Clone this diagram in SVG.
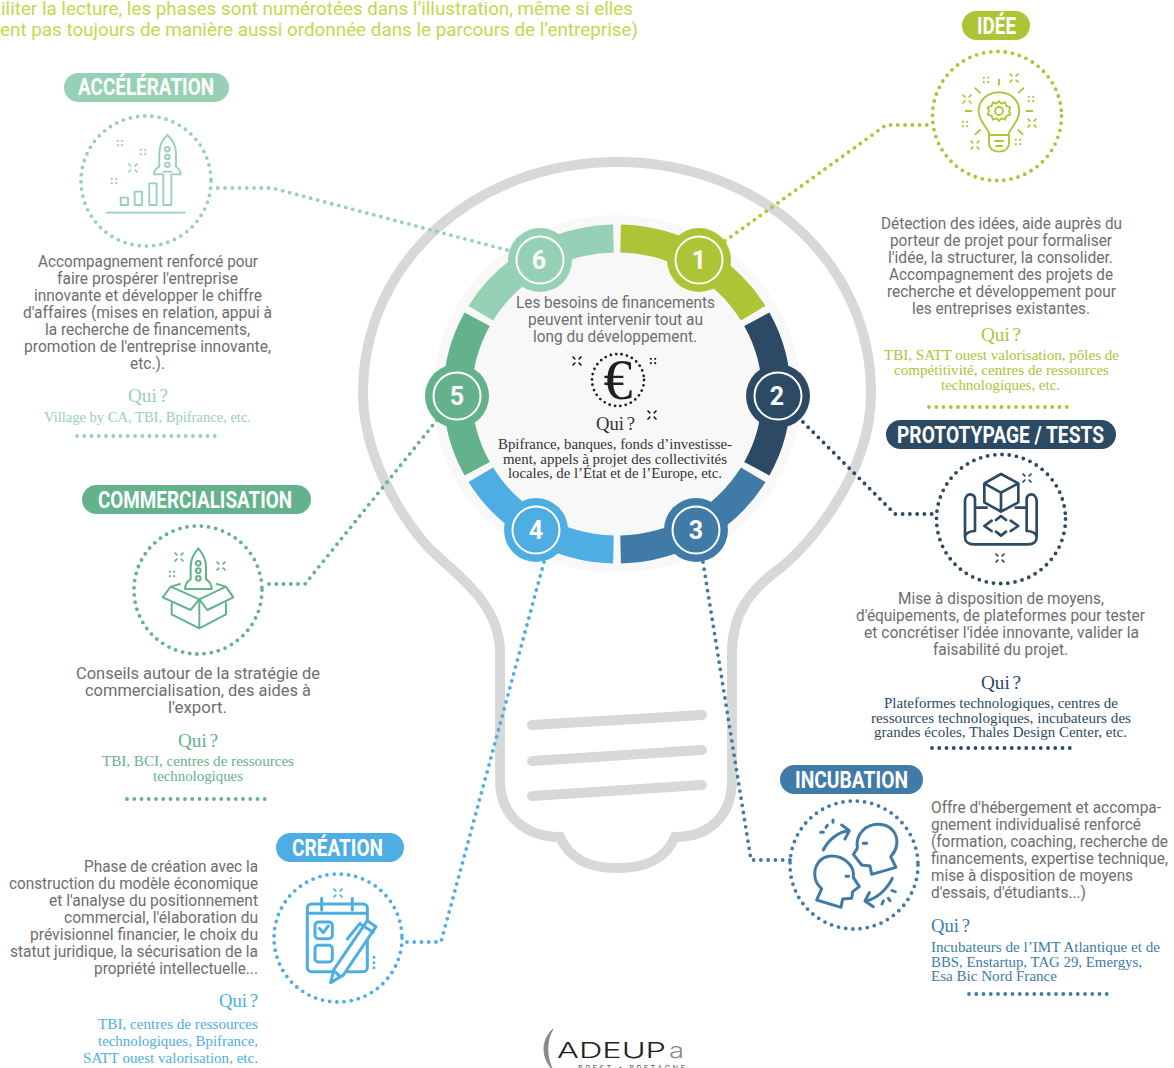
<svg xmlns="http://www.w3.org/2000/svg" width="1174" height="1068" viewBox="0 0 1174 1068">
<style>
text{font-family:"Roboto","Liberation Sans",sans-serif}
.b{font-size:17px;fill:#6d6e70;font-weight:400}
.s{font-family:"Liberation Serif","Times New Roman",serif;font-size:14.5px}
.q{font-family:"Liberation Serif","Times New Roman",serif;font-size:18.5px;word-spacing:-2px}
.p{font-size:24px;font-weight:700;fill:#fff}
.n{font-size:25px;font-weight:700;fill:#fff;text-anchor:middle}
.d{fill:none;stroke-width:3.8;stroke-linecap:round;stroke-dasharray:0 7.25}
.i{fill:none;stroke-linecap:round;stroke-linejoin:round;stroke-width:5}
.seg{fill:none;stroke-width:28}
.g1{color:#adc437}.g2{color:#2c4a63}.g3{color:#407ba8}.g4{color:#4eade3}.g5{color:#64b28b}.g6{color:#97d1b5}
.g1 .d,.g1 .i,.g2 .d,.g2 .i,.g3 .d,.g3 .i,.g4 .d,.g4 .i,.g5 .d,.g5 .i,.g6 .d,.g6 .i{stroke:currentColor}
.g1 .f,.g2 .f,.g3 .f,.g4 .f,.g5 .f,.g6 .f{fill:currentColor}
</style>
<defs>
<g id="sx" fill="none" stroke="currentColor" stroke-width="1.7" stroke-linecap="round"><path d="M-4-4L-2.2-2.2M4-4L2.2-2.2M-4 4L-2.2 2.2M4 4L2.2 2.2"/></g>
<g id="sq" fill="currentColor"><circle cx="-2.2" cy="-2.2" r="1.1"/><circle cx="2.2" cy="-2.2" r="1.1"/><circle cx="-2.2" cy="2.2" r="1.1"/><circle cx="2.2" cy="2.2" r="1.1"/></g>
</defs>

<g id="bulb" fill="none" stroke="#d7d9d8" stroke-width="10" stroke-linecap="round">
<path d="M617 162C475 162 363 262 363 393C363 450 395 510 428 547C450 570 500 600 500 653L500 780C500 815 525 837 560 837C570 860 590 868 617 868C645 868 665 860 675 837C710 837 732 815 732 780L732 653C732 612 752 590 775 572C800 555 871 480 871 393C871 262 760 162 617 162Z"/>
<path d="M532 725L702 715M532 761L702 750M532 796L702 785"/>
</g>

<ellipse id="disk" cx="617" cy="394" rx="184" ry="179" fill="#f8f8f8"/>

<g id="connectors">
<path class="d" stroke="#adc437" d="M725 241L886 125L933 125"/>
<path class="d" stroke="#2c4a63" d="M803 422L895 514L937 514"/>
<path class="d" stroke="#407ba8" d="M703 562L751 860L790 860"/>
<path class="d" stroke="#4eade3" d="M544 562L441 942L406 942"/>
<path class="d" stroke="#64b28b" d="M437 420L305 584L264 584"/>
<path class="d" stroke="#97d1b5" d="M507 250L272 188L212 188"/>
</g>

<g id="ring" transform="translate(617 394) scale(1.025 1) translate(-617 -394)">
<path class="seg" stroke="#adc437" d="M620.5 238.5A155.5 155.5 0 0 1 749.9 313.2"/>
<path class="seg" stroke="#2c4a63" d="M753.4 319.3A155.5 155.5 0 0 1 753.4 468.7"/>
<path class="seg" stroke="#407ba8" d="M749.9 474.8A155.5 155.5 0 0 1 620.5 549.5"/>
<path class="seg" stroke="#4eade3" d="M613.5 549.5A155.5 155.5 0 0 1 484.1 474.8"/>
<path class="seg" stroke="#64b28b" d="M480.6 468.7A155.5 155.5 0 0 1 480.6 319.3"/>
<path class="seg" stroke="#97d1b5" d="M484.1 313.2A155.5 155.5 0 0 1 613.5 238.5"/>
</g>

<g id="node-1"><circle cx="699" cy="260" r="32" fill="#adc437"/><circle cx="699" cy="260" r="23.5" fill="none" stroke="#fff" stroke-width="2"/><text class="n" x="699" y="269">1</text></g>
<g id="node-2"><circle cx="778" cy="396" r="32" fill="#2c4a63"/><circle cx="778" cy="396" r="23.5" fill="none" stroke="#fff" stroke-width="2"/><text class="n" x="777" y="405">2</text></g>
<g id="node-3"><circle cx="696" cy="530" r="32" fill="#407ba8"/><circle cx="696" cy="530" r="23.5" fill="none" stroke="#fff" stroke-width="2"/><text class="n" x="696" y="539">3</text></g>
<g id="node-4"><circle cx="536" cy="530" r="32" fill="#4eade3"/><circle cx="536" cy="530" r="23.5" fill="none" stroke="#fff" stroke-width="2"/><text class="n" x="536" y="539">4</text></g>
<g id="node-5"><circle cx="457" cy="396" r="32" fill="#64b28b"/><circle cx="457" cy="396" r="23.5" fill="none" stroke="#fff" stroke-width="2"/><text class="n" x="457" y="405">5</text></g>
<g id="node-6"><circle cx="540" cy="260" r="32" fill="#97d1b5"/><circle cx="540" cy="260" r="23.5" fill="none" stroke="#fff" stroke-width="2"/><text class="n" x="539" y="269">6</text></g>

<g id="center" style="color:#231f20">
<text class="b" x="516" y="308" textLength="199" lengthAdjust="spacingAndGlyphs">Les besoins de financements</text>
<text class="b" x="528" y="325" textLength="175" lengthAdjust="spacingAndGlyphs">peuvent intervenir tout au</text>
<text class="b" x="533" y="342" textLength="164" lengthAdjust="spacingAndGlyphs">long du développement.</text>
<circle cx="618" cy="380" r="26" fill="none" stroke="#231f20" stroke-width="2.8" stroke-linecap="round" stroke-dasharray="0 5.45"/>
<text x="618" y="399" text-anchor="middle" font-size="58" fill="#231f20" style="font-family:'Liberation Serif',serif">€</text>
<use href="#sx" x="577" y="361"/><use href="#sq" x="653" y="361"/><use href="#sx" x="652" y="415"/>
<text class="q" x="596" y="430" fill="#333" textLength="39" lengthAdjust="spacingAndGlyphs">Qui ?</text>
<text class="s" x="498" y="449" fill="#333" textLength="234" lengthAdjust="spacingAndGlyphs">Bpifrance, banques, fonds d’investisse-</text>
<text class="s" x="503" y="464" fill="#333" textLength="224" lengthAdjust="spacingAndGlyphs">ment, appels à projet des collectivités</text>
<text class="s" x="508" y="478" fill="#333" textLength="214" lengthAdjust="spacingAndGlyphs">locales, de l’État et de l’Europe, etc.</text>
</g>

<g id="intro" fill="#c2d94f" font-size="19">
<text x="1" y="15" textLength="632" lengthAdjust="spacingAndGlyphs">iliter la lecture, les phases sont numérotées dans l’illustration, même si elles</text>
<text x="0" y="36" textLength="638" lengthAdjust="spacingAndGlyphs">ent pas toujours de manière aussi ordonnée dans le parcours de l’entreprise)</text>
</g>

<g id="phase-idee" class="g1">
<rect class="f" x="962" y="11" width="68" height="29" rx="14.5"/>
<text class="p" x="977" y="34" textLength="39" lengthAdjust="spacingAndGlyphs">IDÉE</text>
<circle class="d" cx="997" cy="116" r="64.5"/>
<g transform="translate(900 0) scale(.3333)"><g class="i" style="stroke-width:5.5">
<path d="M267 398C255 375 236 360 236 333C236 300 263 277 297 277C331 277 358 300 358 333C358 360 339 375 327 398L327 430C327 445 315 455 297 455C279 455 267 445 267 430Z"/>
<path d="M267 405L327 405M285 423L309 423M288 438L306 438M297 238L297 254M226 265L240 278M370 265L356 278M197 333L214 333M380 333L397 333M226 403L240 390M355 390L368 403"/>
<path d="M297 303L304 311L315 307L319 318L331 322L327 333L331 344L319 348L315 359L304 355L297 363L290 355L279 359L275 348L263 344L267 333L263 322L275 318L279 307L290 311Z"/>
<circle cx="297" cy="333" r="12"/></g></g>
<use href="#sq" x="986" y="80"/><use href="#sx" x="1014" y="78"/><use href="#sx" x="967" y="99"/><use href="#sq" x="1031" y="99"/><use href="#sq" x="965" y="124"/><use href="#sx" x="1032" y="123"/><use href="#sx" x="975" y="145"/><use href="#sq" x="1018" y="142"/>
<g class="b">
<text x="881" y="229" textLength="241" lengthAdjust="spacingAndGlyphs">Détection des idées, aide auprès du</text>
<text x="890" y="246" textLength="222" lengthAdjust="spacingAndGlyphs">porteur de projet pour formaliser</text>
<text x="888" y="263" textLength="225" lengthAdjust="spacingAndGlyphs">l'idée, la structurer, la consolider.</text>
<text x="889" y="280" textLength="224" lengthAdjust="spacingAndGlyphs">Accompagnement des projets de</text>
<text x="887" y="297" textLength="229" lengthAdjust="spacingAndGlyphs">recherche et développement pour</text>
<text x="912" y="314" textLength="178" lengthAdjust="spacingAndGlyphs">les entreprises existantes.</text>
</g>
<text class="q" x="981" y="341" fill="#adc437" textLength="40" lengthAdjust="spacingAndGlyphs">Qui ?</text>
<text class="s" x="884" y="360" fill="#adc437" textLength="235" lengthAdjust="spacingAndGlyphs">TBI, SATT ouest valorisation, pôles de</text>
<text class="s" x="894" y="375" fill="#adc437" textLength="215" lengthAdjust="spacingAndGlyphs">compétitivité, centres de ressources</text>
<text class="s" x="941" y="390" fill="#adc437" textLength="119" lengthAdjust="spacingAndGlyphs">technologiques, etc.</text>
<path class="d" d="M929 407L1073 407"/>
</g>

<g id="phase-prototypage" class="g2">
<rect class="f" x="886" y="420" width="230" height="29" rx="14.5"/>
<text class="p" x="897" y="443" textLength="207" lengthAdjust="spacingAndGlyphs">PROTOTYPAGE / TESTS</text>
<circle class="d" cx="1001" cy="519" r="64.5"/>
<g transform="translate(920 450) scale(.3333)"><g class="i" style="stroke-width:8">
<path d="M243 72L295 100L295 157L243 185L193 157L193 100ZM193 100L243 128L295 100M243 128L243 185"/>
<path d="M165 243L165 148C165 138 158 133 150 133C142 133 135 142 135 152L135 262C135 275 146 283 160 283L325 283C340 283 350 275 350 262L350 152C350 142 342 133 335 133C327 133 320 138 320 148L320 243M165 243C150 243 135 250 135 262M320 243C335 243 350 250 350 262"/>
<path d="M170 173L200 173M287 173L320 173M215 212L193 228L215 243M272 212L295 228L272 243M228 210L243 198L258 210M228 245L243 257L258 245"/>
</g></g>
<use href="#sx" x="1027" y="478"/><use href="#sx" x="1000" y="558"/>
<g class="b">
<text x="898" y="604" textLength="206" lengthAdjust="spacingAndGlyphs">Mise à disposition de moyens,</text>
<text x="856" y="621" textLength="289" lengthAdjust="spacingAndGlyphs">d'équipements, de plateformes pour tester</text>
<text x="864" y="638" textLength="275" lengthAdjust="spacingAndGlyphs">et concrétiser l'idée innovante, valider la</text>
<text x="933" y="655" textLength="135" lengthAdjust="spacingAndGlyphs">faisabilité du projet.</text>
</g>
<text class="q" x="981" y="689" fill="#2c4a63" textLength="40" lengthAdjust="spacingAndGlyphs">Qui ?</text>
<text class="s" x="884" y="708" fill="#2c4a63" textLength="234" lengthAdjust="spacingAndGlyphs">Plateformes technologiques, centres de</text>
<text class="s" x="871" y="723" fill="#2c4a63" textLength="260" lengthAdjust="spacingAndGlyphs">ressources technologiques, incubateurs des</text>
<text class="s" x="874" y="737" fill="#2c4a63" textLength="253" lengthAdjust="spacingAndGlyphs">grandes écoles, Thales Design Center, etc.</text>
<path class="d" d="M932 748L1076 748"/>
</g>

<g id="phase-incubation" class="g3">
<rect class="f" x="780" y="765" width="143" height="29" rx="14.5"/>
<text class="p" x="795" y="788" textLength="113" lengthAdjust="spacingAndGlyphs">INCUBATION</text>
<circle class="d" cx="854" cy="865" r="64"/>
<g transform="translate(770 790) scale(.3333)"><g class="i" style="stroke-width:9">
<path d="M275 225L250 193L262 175C255 130 290 103 325 103C365 103 385 135 380 165C378 185 365 195 362 200L378 232L305 253L300 228Z"/>
<path d="M245 325L248 305L268 290L250 262C255 225 220 198 185 198C150 198 130 230 135 262C137 280 150 290 155 297L140 330L213 352L218 327Z"/>
<path d="M160 180C175 150 205 125 235 122M215 105L238 122L225 147M367 265C350 300 320 325 288 333M298 308L285 333L310 350"/>
<path d="M280 160L290 160M228 259L236 259M152 127L160 127M168 112L172 106M189 90L189 97M366 302L376 305M355 325L360 332M336 342L340 333"/>
</g></g>
<g class="b">
<text x="931" y="813" textLength="230" lengthAdjust="spacingAndGlyphs">Offre d'hébergement et accompa-</text>
<text x="931" y="830" textLength="210" lengthAdjust="spacingAndGlyphs">gnement individualisé renforcé</text>
<text x="931" y="847" textLength="237" lengthAdjust="spacingAndGlyphs">(formation, coaching, recherche de</text>
<text x="931" y="864" textLength="237" lengthAdjust="spacingAndGlyphs">financements, expertise technique,</text>
<text x="931" y="881" textLength="202" lengthAdjust="spacingAndGlyphs">mise à disposition de moyens</text>
<text x="931" y="898" textLength="155" lengthAdjust="spacingAndGlyphs">d'essais, d'étudiants...)</text>
</g>
<text class="q" x="931" y="932" fill="#407ba8" textLength="39" lengthAdjust="spacingAndGlyphs">Qui ?</text>
<text class="s" x="931" y="952" fill="#407ba8" textLength="229" lengthAdjust="spacingAndGlyphs">Incubateurs de l’IMT Atlantique et de</text>
<text class="s" x="931" y="967" fill="#407ba8" textLength="211" lengthAdjust="spacingAndGlyphs">BBS, Enstartup, TAG 29, Emergys,</text>
<text class="s" x="931" y="981" fill="#407ba8" textLength="126" lengthAdjust="spacingAndGlyphs">Esa Bic Nord France</text>
<path class="d" d="M969 994L1113 994"/>
</g>

<g id="phase-creation" class="g4">
<rect class="f" x="276" y="833" width="128" height="29" rx="14.5"/>
<text class="p" x="292" y="856" textLength="91" lengthAdjust="spacingAndGlyphs">CRÉATION</text>
<circle class="d" cx="338" cy="938" r="64"/>
<g transform="translate(260 860) scale(.3333)"><g class="i" style="stroke-width:9">
<rect x="142" y="132" width="180" height="203" rx="12"/>
<path d="M142 160L322 160M185 115L185 150M277 115L277 150"/>
<rect x="165" y="186" width="52" height="50" rx="10"/><rect x="165" y="256" width="52" height="50" rx="10"/>
<path d="M178 205L190 218L205 198"/>
<path d="M212 368L222 328L322 182L348 200L250 345Z" fill="#fff"/>
<path d="M305 195L340 217M262 237L300 190M225 335L240 350"/>
<path d="M342 292L342 292M342 308L342 308M342 323L342 323"/>
</g></g>
<use href="#sx" x="338" y="893"/>
<g class="b">
<text x="84" y="872" textLength="174" lengthAdjust="spacingAndGlyphs">Phase de création avec la</text>
<text x="9" y="889" textLength="249" lengthAdjust="spacingAndGlyphs">construction du modèle économique</text>
<text x="49" y="906" textLength="209" lengthAdjust="spacingAndGlyphs">et l'analyse du positionnement</text>
<text x="64" y="923" textLength="194" lengthAdjust="spacingAndGlyphs">commercial, l'élaboration du</text>
<text x="30" y="940" textLength="228" lengthAdjust="spacingAndGlyphs">prévisionnel financier, le choix du</text>
<text x="10" y="957" textLength="248" lengthAdjust="spacingAndGlyphs">statut juridique, la sécurisation de la</text>
<text x="94" y="974" textLength="164" lengthAdjust="spacingAndGlyphs">propriété intellectuelle...</text>
</g>
<text class="q" x="219" y="1007" fill="#4eade3" textLength="39" lengthAdjust="spacingAndGlyphs">Qui ?</text>
<text class="s" x="98" y="1029" fill="#4eade3" textLength="160" lengthAdjust="spacingAndGlyphs">TBI, centres de ressources</text>
<text class="s" x="98" y="1046" fill="#4eade3" textLength="160" lengthAdjust="spacingAndGlyphs">technologiques, Bpifrance,</text>
<text class="s" x="83" y="1063" fill="#4eade3" textLength="175" lengthAdjust="spacingAndGlyphs">SATT ouest valorisation, etc.</text>
</g>

<g id="phase-commercialisation" class="g5">
<rect class="f" x="82" y="485" width="229" height="29" rx="14.5"/>
<text class="p" x="98" y="508" textLength="194" lengthAdjust="spacingAndGlyphs">COMMERCIALISATION</text>
<circle class="d" cx="198" cy="590" r="64"/>
<g transform="translate(120 520) scale(.3333)"><g class="i" style="stroke-width:6">
<path d="M235 85C222 100 212 118 212 140L212 178C200 185 195 195 195 207L275 207C275 195 270 185 258 178L258 140C258 118 248 100 235 85Z"/>
<circle cx="235" cy="130" r="7"/><circle cx="235" cy="152" r="7"/><circle cx="235" cy="175" r="7"/>
<path d="M238 238L152 200L128 232L212 270L238 238L262 270L340 232L318 200L238 238M155 250L155 283L238 325L318 283L318 250M238 238L238 325M152 200L180 192M318 200L290 192"/>
</g></g>
<use href="#sx" x="179" y="557"/><use href="#sx" x="221" y="566"/><use href="#sq" x="172" y="574"/>
<g class="b">
<text x="76" y="679" textLength="244" lengthAdjust="spacingAndGlyphs">Conseils autour de la stratégie de</text>
<text x="85" y="696" textLength="226" lengthAdjust="spacingAndGlyphs">commercialisation, des aides à</text>
<text x="168" y="713" textLength="59" lengthAdjust="spacingAndGlyphs">l'export.</text>
</g>
<text class="q" x="178" y="747" fill="#64b28b" textLength="40" lengthAdjust="spacingAndGlyphs">Qui ?</text>
<text class="s" x="102" y="766" fill="#64b28b" textLength="192" lengthAdjust="spacingAndGlyphs">TBI, BCI, centres de ressources</text>
<text class="s" x="153" y="781" fill="#64b28b" textLength="90" lengthAdjust="spacingAndGlyphs">technologiques</text>
<path class="d" d="M127 799L270 799"/>
</g>

<g id="phase-acceleration" class="g6">
<rect class="f" x="64" y="73" width="165" height="29" rx="14.5"/>
<text class="p" x="78" y="95" textLength="136" lengthAdjust="spacingAndGlyphs">ACCÉLÉRATION</text>
<circle class="d" cx="146" cy="181" r="65"/>
<g transform="translate(60 60) scale(.3333)"><g class="i" style="stroke-width:5.5">
<path d="M322 225C308 238 298 258 298 280L298 320C288 325 282 335 282 343L310 343L310 435L334 435L334 343L362 343C362 335 356 325 348 320L348 280C348 258 336 238 322 225ZM310 335L334 335"/>
<circle cx="322" cy="268" r="7"/><circle cx="322" cy="291" r="7"/><circle cx="322" cy="314" r="7"/>
<rect x="182" y="413" width="22" height="22"/><rect x="224" y="395" width="22" height="40"/><rect x="268" y="370" width="22" height="65"/>
<path d="M140 458L375 458"/>
</g></g>
<use href="#sq" x="120" y="143"/><use href="#sq" x="143" y="152"/><use href="#sx" x="133" y="168"/><use href="#sq" x="114" y="181"/>
<g class="b">
<text x="38" y="267" textLength="220" lengthAdjust="spacingAndGlyphs">Accompagnement renforcé pour</text>
<text x="57" y="284" textLength="181" lengthAdjust="spacingAndGlyphs">faire prospérer l'entreprise</text>
<text x="34" y="301" textLength="228" lengthAdjust="spacingAndGlyphs">innovante et développer le chiffre</text>
<text x="23" y="318" textLength="249" lengthAdjust="spacingAndGlyphs">d'affaires (mises en relation, appui à</text>
<text x="45" y="335" textLength="205" lengthAdjust="spacingAndGlyphs">la recherche de financements,</text>
<text x="24" y="352" textLength="247" lengthAdjust="spacingAndGlyphs">promotion de l'entreprise innovante,</text>
<text x="130" y="369" textLength="35" lengthAdjust="spacingAndGlyphs">etc.).</text>
</g>
<text class="q" x="128" y="402" fill="#97d1b5" textLength="40" lengthAdjust="spacingAndGlyphs">Qui ?</text>
<text class="s" x="44" y="422" fill="#97d1b5" textLength="207" lengthAdjust="spacingAndGlyphs">Village by CA, TBI, Bpifrance, etc.</text>
<path class="d" d="M77 436L220 436"/>
</g>

<g id="logo">
<path d="M553 1029C541 1040 541 1058 553 1070C546 1058 546 1040 553 1029Z" fill="#8a8a8c" stroke="#8a8a8c"/>
<text x="557" y="1058" font-size="22" fill="#222" font-weight="300" textLength="109" lengthAdjust="spacingAndGlyphs" style="font-family:Inter,sans-serif">ADEUP</text>
<text x="669" y="1058" font-size="22" fill="#8a8a8c" font-weight="300" textLength="15" lengthAdjust="spacingAndGlyphs" style="font-family:Inter,sans-serif">a</text>
<text x="578" y="1071" font-size="7.5" fill="#666" textLength="107" style="font-family:Inter,sans-serif">BREST • BRETAGNE</text>
</g>
</svg>
